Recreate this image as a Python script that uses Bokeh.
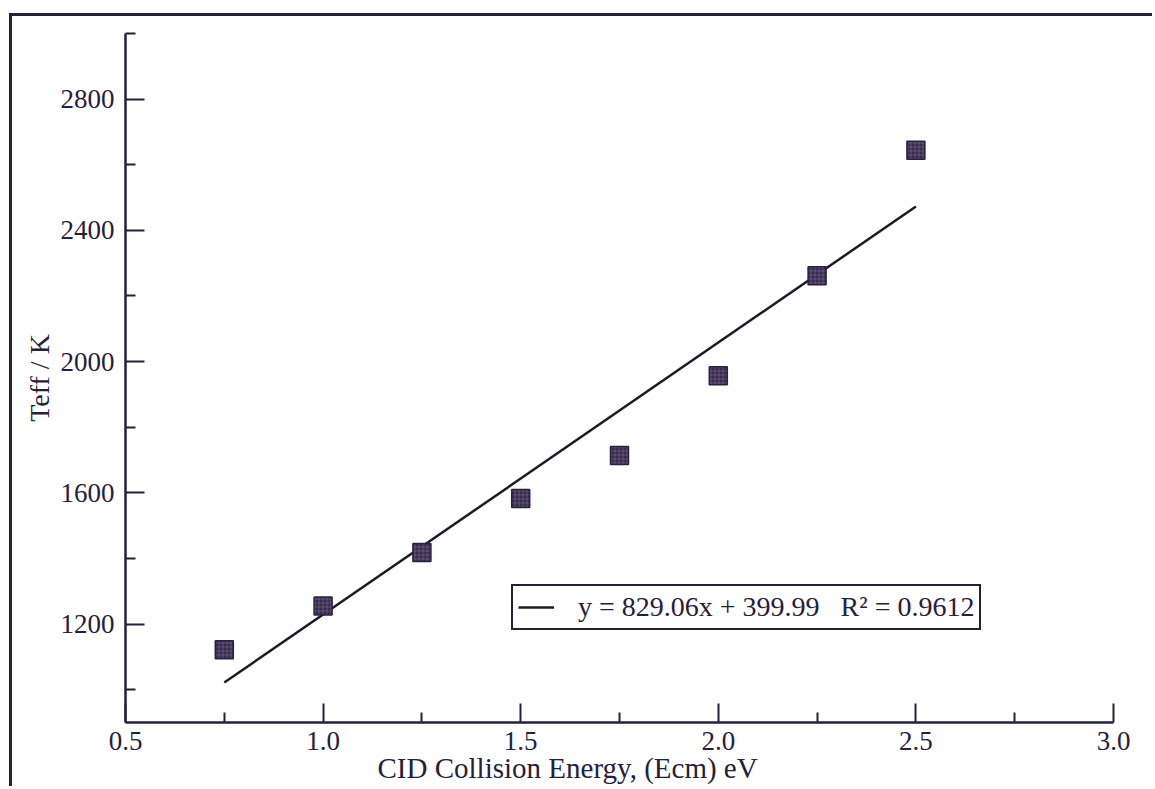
from bokeh.plotting import figure
from bokeh.models import (Range1d, FixedTicker, Legend, LegendItem, Title,
                          ColumnDataSource)
from bokeh.embed import file_html
from bokeh.resources import INLINE

# CID collision energy (Ecm, eV) and effective temperature (K)
energy = [0.75, 1.00, 1.25, 1.50, 1.75, 2.00, 2.25, 2.50]
teff = [1122, 1255, 1418, 1583, 1714, 1957, 2262, 2644]

# linear fit reported for the series
fit_slope = 829.06
fit_intercept = 399.99
fit_r2 = 0.9612

x_ticks = [0.5, 1.0, 1.5, 2.0, 2.5, 3.0]
x_minor = [0.75, 1.25, 1.75, 2.25, 2.75]
y_ticks = [1200, 1600, 2000, 2400, 2800]
y_minor = [1000, 1400, 1800, 2200, 2600, 3000]

INK = "#26213a"
FONT = "Liberation Serif"

p = figure(width=1143, height=773, output_backend="svg", toolbar_location=None,
           x_range=Range1d(0.5, 3.0), y_range=Range1d(900, 3000),
           min_border_left=113, min_border_right=42,
           min_border_top=17, min_border_bottom=67)
# page rules along the top and left edges
p.styles = {"margin-left": "9px", "margin-top": "13px",
            "border-top": f"3px solid {INK}", "border-left": f"3px solid {INK}"}
p.outline_line_color = None
p.grid.visible = False
p.background_fill_color = "white"
p.border_fill_color = "white"

for ax, ticks, minor in ((p.xaxis[0], x_ticks, x_minor), (p.yaxis[0], y_ticks, y_minor)):
    ax.ticker = FixedTicker(ticks=ticks, minor_ticks=minor)
    ax.axis_line_color = INK
    ax.axis_line_width = 2.5
    ax.major_tick_line_color = INK
    ax.major_tick_line_width = 2
    ax.minor_tick_line_color = INK
    ax.minor_tick_line_width = 2
    ax.major_tick_in = 19
    ax.major_tick_out = 0
    ax.minor_tick_in = 10
    ax.minor_tick_out = 0
    ax.major_label_text_font = FONT
    ax.major_label_text_font_size = "27px"
    ax.major_label_text_color = INK
    ax.major_label_standoff = 11

p.xaxis[0].major_label_standoff = 9
p.xaxis[0].major_label_overrides = {v: f"{v:.1f}" for v in x_ticks}
p.yaxis[0].axis_label = "Teff / K"
p.yaxis[0].axis_label_text_font = FONT
p.yaxis[0].axis_label_text_font_size = "28px"
p.yaxis[0].axis_label_text_font_style = "normal"
p.yaxis[0].axis_label_text_color = INK
p.yaxis[0].axis_label_standoff = 3

# x-axis title, set left of the axis centre
p.add_layout(Title(text="CID Collision Energy, (Ecm) eV", align="left",
                   offset=252, standoff=-6, text_font=FONT,
                   text_font_size="29px", text_font_style="normal",
                   text_color=INK), "below")

# fitted line over the measured range
fit_x = [min(energy), max(energy)]
fit_y = [fit_slope * v + fit_intercept for v in fit_x]
fit_line = p.line(fit_x, fit_y, line_color="#1d1a28", line_width=2.5)

src = ColumnDataSource(dict(energy=energy, teff=teff))
p.scatter("energy", "teff", source=src, marker="square", size=18,
          fill_color="#3a2c50", line_color="#2a2040", line_width=1.5,
          hatch_pattern="+", hatch_color="#c9c2d8", hatch_alpha=0.22,
          hatch_scale=4, hatch_weight=1)

legend = Legend(items=[LegendItem(
    label=f"y = {fit_slope:.2f}x + {fit_intercept:.2f}   R\u00b2 = {fit_r2:.4f}",
    renderers=[fit_line])],
    location=(386, 92), orientation="vertical",
    label_text_font=FONT, label_text_font_size="28px", label_text_color=INK,
    glyph_width=36, glyph_height=30, label_height=30, label_standoff=24,
    padding=5, margin=0, spacing=0,
    border_line_color=INK, border_line_width=2.5, border_line_alpha=1.0,
    background_fill_color="white", background_fill_alpha=1.0)
p.add_layout(legend, "center")

open("out.html", "w").write(file_html(p, INLINE))
